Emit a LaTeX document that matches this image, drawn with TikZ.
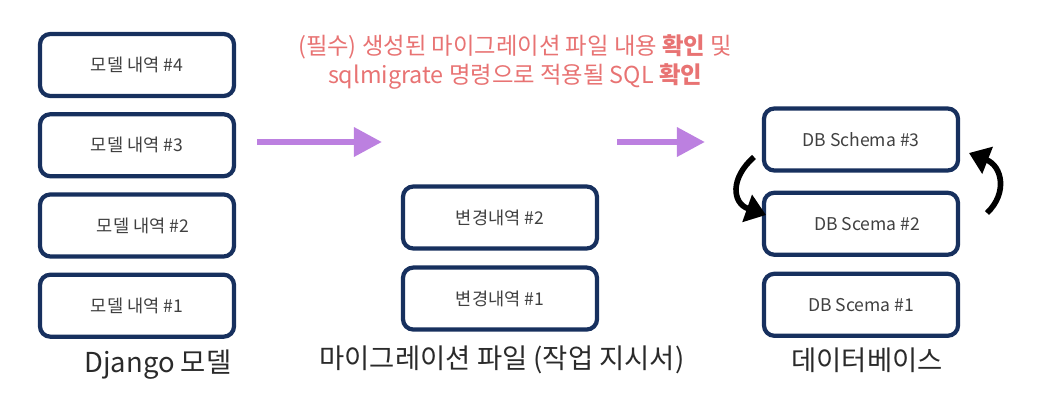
\documentclass[tikz,border=0pt]{standalone}
\usepackage{fontspec}
\setmainfont{Noto Sans CJK KR}
\usetikzlibrary{arrows.meta,positioning,calc}
\definecolor{boxnavy}{HTML}{17305E}
\definecolor{boxtext}{HTML}{404040}
\definecolor{captext}{HTML}{2A2A2A}
\definecolor{flowpurple}{HTML}{BC80E0}
\definecolor{notered}{HTML}{E87373}
\tikzset{
  histbox/.style={draw=boxnavy,line width=3pt,rounded corners=2.6mm,minimum width=4.85cm,minimum height=1.55cm,text=boxtext,font=\fontsize{12.5}{14}\selectfont},
  flowarrow/.style={draw=flowpurple,line width=4.5pt,-{Triangle[length=7mm,width=7mm]}},
  swaparrow/.style={draw=black,line width=4pt,-{Triangle[length=5mm,width=7mm]}},
  colcaption/.style={text=captext,font=\fontsize{19.5}{22}\selectfont},
  notetext/.style={text=notered,align=center,font=\fontsize{16.6}{20.6}\selectfont}
}
\begin{document}
\begin{tikzpicture}[x=0.025cm,y=-0.025cm]
  \useasboundingbox (0,0) rectangle (1054,420);
  % Django models
  \node[histbox] (m4) at (137,65) {모델 내역 \#4};
  \node[histbox,below=3.5mm of m4] (m3) {모델 내역 \#3};
  \node[histbox,below=3.5mm of m3] (m2) {\hspace{3mm}모델 내역 \#2};
  \node[histbox,below=3.5mm of m2] (m1) {모델 내역 \#1};
  \node[colcaption] (djcap) at (158,365) {Django 모델};
  % migration files
  \node[histbox] (c2) at (500,217.5) {변경내역 \#2};
  \node[histbox,below=3.7mm of c2] (c1) {변경내역 \#1};
  \node[colcaption] (migcap) at (502,360) {마이그레이션 파일 (작업 지시서)};
  % database
  \node[histbox] (db3) at (861,139.5) {DB Schema \#3};
  \node[histbox,below=4.5mm of db3] (db2) {\hspace{3mm}DB Scema \#2};
  \node[histbox,below=3.7mm of db2] (db1) {DB Scema \#1};
  \node[colcaption] (dbcap) at (867,360) {데이터베이스};
  % note
  \node[notetext] (note) at (515,62) {(필수) 생성된 마이그레이션 파일 내용 \textbf{확인} 및\\sqlmigrate 명령으로 적용될 SQL \textbf{확인}};
  % flow arrows
  \coordinate (f1s) at (257,142);
  \coordinate (f1e) at (382,142);
  \coordinate (f2s) at (617,142);
  \coordinate (f2e) at (705,142);
  \draw[flowarrow] (f1s)--(f1e);
  \draw[flowarrow] (f2s)--(f2e);
  % rollback / apply arrows
  \coordinate (lsa) at (754,157);
  \coordinate (lea) at (766,215);
  \coordinate (rsa) at (987,213);
  \coordinate (rea) at (969,153);
  \draw[swaparrow] (lsa) .. controls (730,178) and (732,203) .. (lea);
  \draw[swaparrow] (rsa) .. controls (1008,193) and (1002,166) .. (rea);
\end{tikzpicture}
\end{document}
